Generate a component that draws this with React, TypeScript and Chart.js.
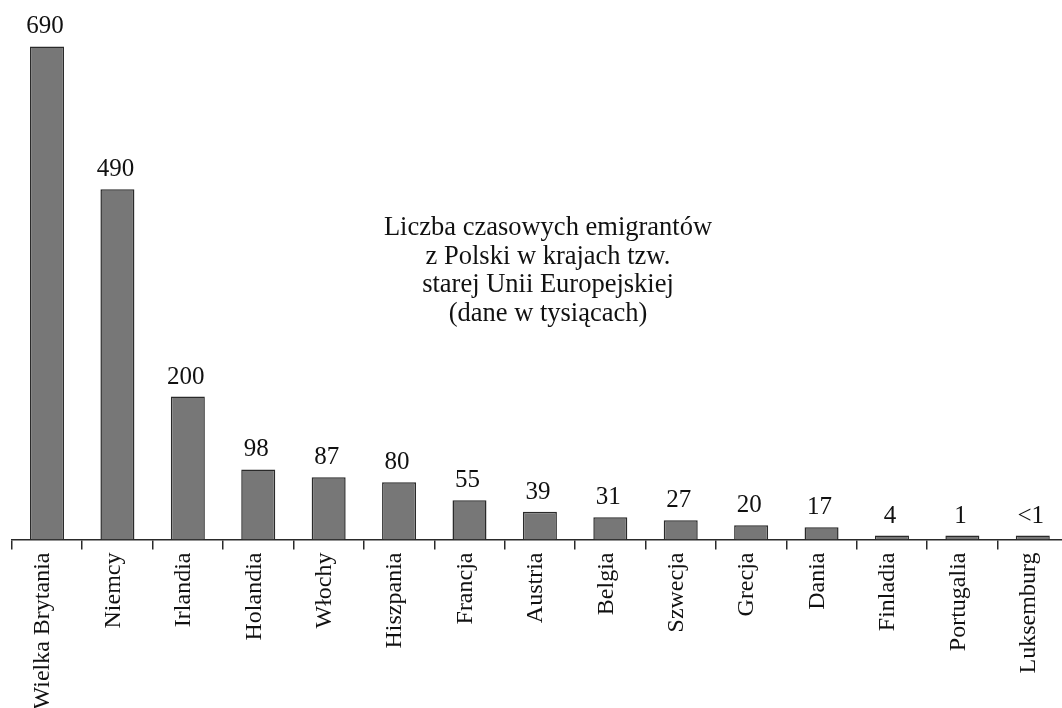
import React, { useEffect, useRef } from "react";
import { Chart, registerables } from "chart.js";

Chart.register(...registerables);

const categories: string[] = [
  "Wielka Brytania",
  "Niemcy",
  "Irlandia",
  "Holandia",
  "Włochy",
  "Hiszpania",
  "Francja",
  "Austria",
  "Belgia",
  "Szwecja",
  "Grecja",
  "Dania",
  "Finladia",
  "Portugalia",
  "Luksemburg",
];

const values: number[] = [690, 490, 200, 98, 87, 80, 55, 39, 31, 27, 20, 17, 4, 1, 0.5];

const valueLabels: string[] = [
  "690", "490", "200", "98", "87", "80", "55", "39", "31", "27", "20", "17", "4", "1", "<1",
];

const titleLines: string[] = [
  "Liczba czasowych emigrantów",
  "z Polski w krajach tzw.",
  "starej Unii Europejskiej",
  "(dane w tysiącach)",
];

const FONT = "'Liberation Serif', 'Times New Roman', serif";

const valueLabelPlugin = {
  id: "valueLabels",
  afterDatasetsDraw(chart: any) {
    const ctx = chart.ctx;
    const meta = chart.getDatasetMeta(0);
    ctx.save();
    ctx.fillStyle = "#111";
    ctx.font = `25px ${FONT}`;
    ctx.textAlign = "center";
    ctx.textBaseline = "alphabetic";
    meta.data.forEach((bar: any, i: number) => {
      ctx.fillText(valueLabels[i], bar.x - 2, bar.y - 13);
    });
    ctx.restore();
  },
};

const titlePlugin = {
  id: "centerTitle",
  afterDraw(chart: any) {
    const ctx = chart.ctx;
    ctx.save();
    ctx.fillStyle = "#111";
    ctx.font = `26.5px ${FONT}`;
    ctx.textAlign = "center";
    ctx.textBaseline = "alphabetic";
    titleLines.forEach((line, i) => {
      ctx.fillText(line, 548, 235 + i * 28.5);
    });
    ctx.restore();
  },
};

export default function App() {
  const canvasRef = useRef<HTMLCanvasElement | null>(null);

  useEffect(() => {
    if (!canvasRef.current) return;
    const chart = new Chart(canvasRef.current, {
      type: "bar",
      data: {
        labels: categories,
        datasets: [
          {
            data: values,
            backgroundColor: "#777777",
            borderColor: "#2a2a2a",
            borderWidth: 1.5,
            barPercentage: 0.483,
            categoryPercentage: 1,
            minBarLength: 4,
          },
        ],
      },
      options: {
        animation: false,
        responsive: false,
        devicePixelRatio: 1,
        layout: { padding: { left: 11.8, right: 2, top: 0, bottom: 0 } },
        plugins: {
          legend: { display: false },
          tooltip: { enabled: false },
          title: { display: false },
        },
        scales: {
          x: {
            offset: true,
            grid: {
              display: true,
              drawOnChartArea: false,
              drawTicks: true,
              tickLength: 10,
              offset: true,
              color: "#2a2a2a",
              lineWidth: 1.5,
            },
            border: { display: true, color: "#2a2a2a", width: 1.5 },
            ticks: {
              minRotation: 90,
              maxRotation: 90,
              autoSkip: false,
              padding: 3,
              labelOffset: -4,
              color: "#111",
              font: { family: FONT, size: 24 },
            },
            afterFit: (scale: any) => {
              scale.height = 708 - 539.5;
            },
          },
          y: {
            display: false,
            min: 0,
            max: 755,
          },
        },
      },
      plugins: [valueLabelPlugin, titlePlugin],
    });
    return () => chart.destroy();
  }, []);

  return (
    <div
      style={{
        position: "fixed",
        left: 0,
        top: 0,
        width: 1062,
        height: 708,
        overflow: "hidden",
        background: "#fff",
      }}
    >
      <canvas ref={canvasRef} width={1070} height={708} style={{ display: "block" }} />
    </div>
  );
}
